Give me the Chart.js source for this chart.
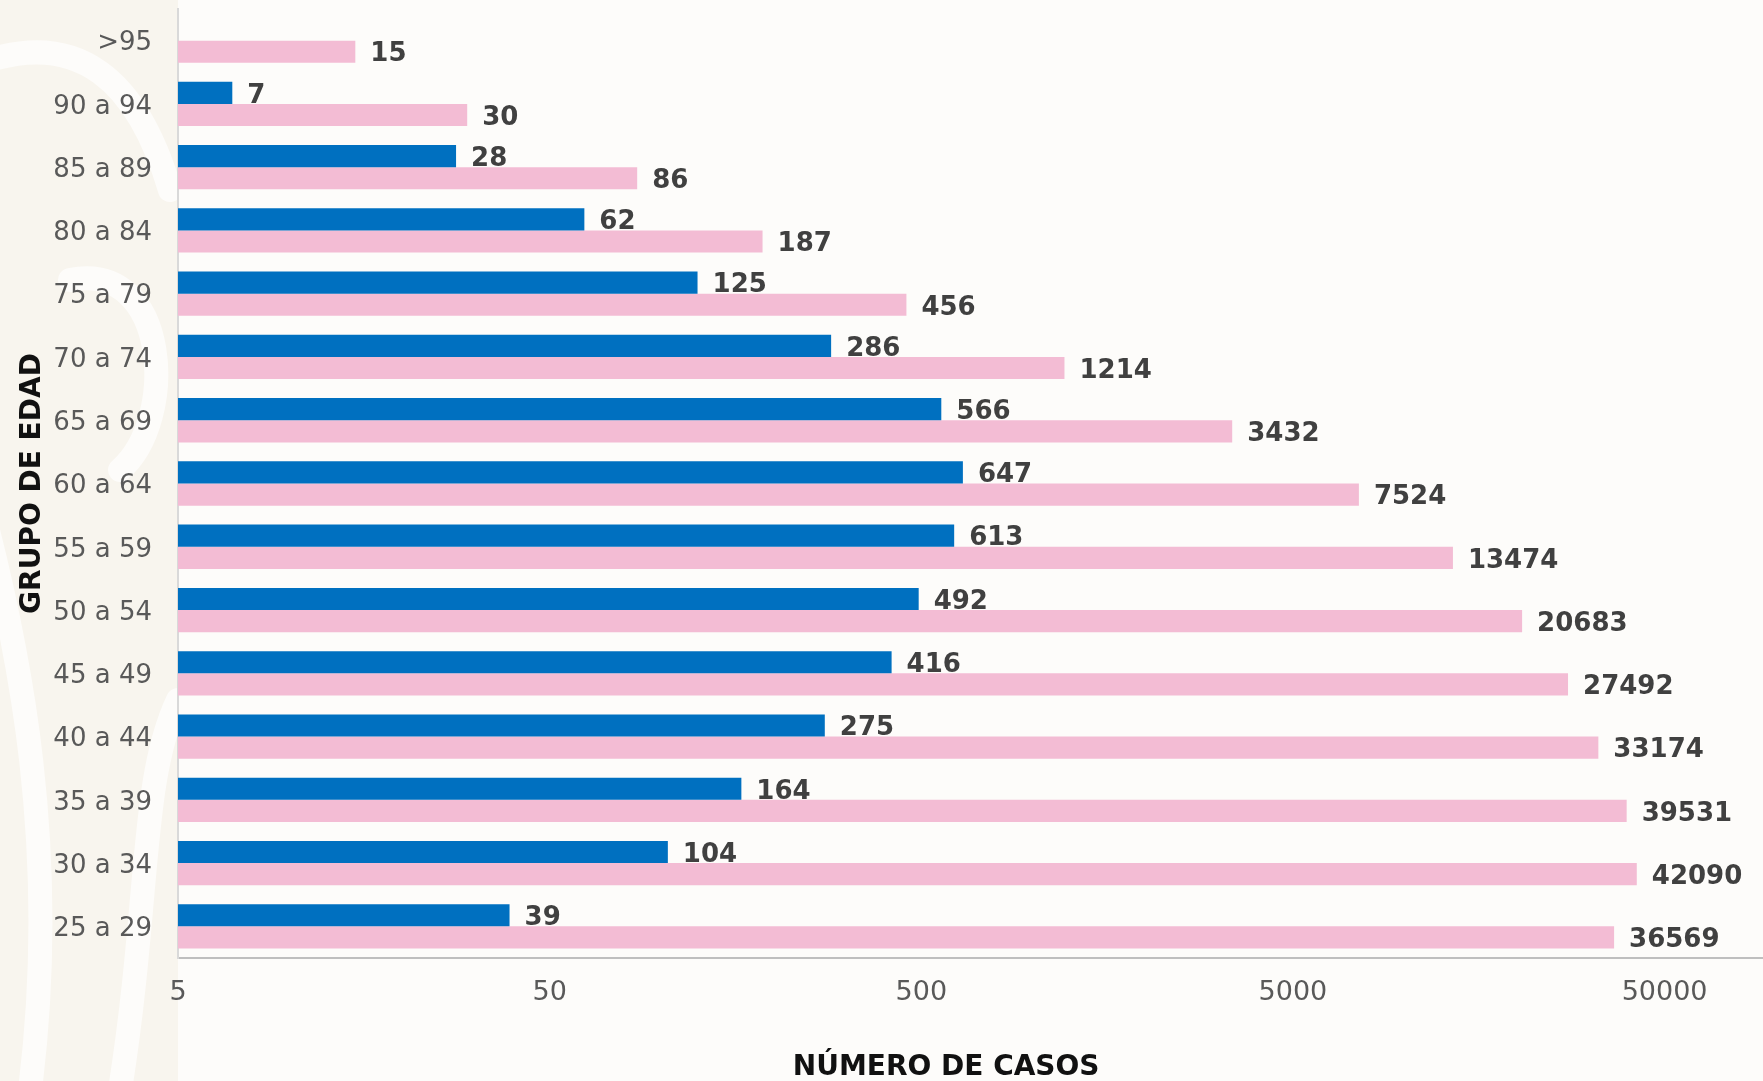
<!DOCTYPE html>
<html lang="es">
<head>
<meta charset="UTF-8" />
<title>Casos por grupo de edad</title>
<script src="https://cdn.jsdelivr.net/npm/chart.js"></script>
<style>
  html, body { margin: 0; padding: 0; overflow: hidden; background: #fdfcfa; }
  #chart-container { width: 1763px; height: 1085px; position: relative; }
</style>
</head>
<body>
<div id="chart-container"><canvas id="barChart"></canvas></div>
<script>
const grupos = [">95", "90 a 94", "85 a 89", "80 a 84", "75 a 79", "70 a 74", "65 a 69", "60 a 64",
  "55 a 59", "50 a 54", "45 a 49", "40 a 44", "35 a 39", "30 a 34", "25 a 29"];
const serieAzul = [null, 7, 28, 62, 125, 286, 566, 647, 613, 492, 416, 275, 164, 104, 39];
const serieRosa = [15, 30, 86, 187, 456, 1214, 3432, 7524, 13474, 20683, 27492, 33174, 39531, 42090, 36569];
const marcasX = [5, 50, 500, 5000, 50000];

const fuente = "'DejaVu Sans', sans-serif";

// fondo crema con trazos blancos a la izquierda
const fondo = {
  id: "fondo",
  beforeDraw(chart) {
    const { ctx, width, height } = chart;
    ctx.save();
    ctx.fillStyle = "#fdfcfa";
    ctx.fillRect(0, 0, width, height);
    ctx.fillStyle = "#f8f5ee";
    ctx.fillRect(0, 0, 178, height);
    ctx.strokeStyle = "#fdfcfa";
    ctx.lineCap = "round";
    ctx.lineWidth = 24;
    ctx.beginPath();
    ctx.moveTo(-10, 60);
    ctx.quadraticCurveTo(120, 20, 170, 190);
    ctx.moveTo(30, 1090);
    ctx.bezierCurveTo(60, 850, 20, 650, -20, 500);
    ctx.moveTo(120, 1090);
    ctx.bezierCurveTo(150, 900, 140, 780, 178, 700);
    ctx.moveTo(70, 280);
    ctx.bezierCurveTo(170, 260, 178, 420, 120, 470);
    ctx.stroke();
    ctx.restore();
  }
};

// valores al final de cada barra
const etiquetas = {
  id: "etiquetas",
  afterDatasetsDraw(chart) {
    const ctx = chart.ctx;
    ctx.save();
    ctx.font = "bold 26px " + fuente;
    ctx.fillStyle = "#404040";
    ctx.textAlign = "left";
    ctx.textBaseline = "middle";
    chart.data.datasets.forEach((ds, i) => {
      chart.getDatasetMeta(i).data.forEach((bar, j) => {
        const v = ds.data[j];
        if (v == null) return;
        ctx.fillText(String(v), bar.x + 15, bar.y + 3);
      });
    });
    ctx.restore();
  }
};

new Chart(document.getElementById("barChart"), {
  type: "bar",
  data: {
    labels: grupos,
    datasets: [
      { label: "Serie azul", data: serieAzul, backgroundColor: "#0070c0" },
      { label: "Serie rosa", data: serieRosa, backgroundColor: "#f3bcd4" }
    ]
  },
  options: {
    indexAxis: "y",
    responsive: true,
    maintainAspectRatio: false,
    animation: false,
    categoryPercentage: 0.7,
    barPercentage: 1,
    layout: { padding: { top: 9, right: 0, bottom: 0, left: 0 } },
    plugins: {
      legend: { display: false },
      tooltip: { enabled: false }
    },
    scales: {
      x: {
        type: "logarithmic",
        min: 5,
        max: 92000,
        afterBuildTicks: (s) => { s.ticks = marcasX.map((v) => ({ value: v })); },
        afterFit: (s) => { s.height = 127; },
        grid: { display: false, drawTicks: false },
        border: { display: true, color: "#bfbfbf", width: 2 },
        ticks: {
          color: "#595959",
          font: { family: fuente, size: 27 },
          padding: 19,
          maxRotation: 0,
          autoSkip: false,
          callback: (v) => String(v)
        },
        title: {
          display: true,
          text: "NÚMERO DE CASOS     ",
          color: "#111111",
          font: { family: fuente, size: 28, weight: "bold" },
          padding: { top: 0, bottom: 0 }
        }
      },
      y: {
        afterFit: (s) => {
          s.width = 178;
          s.paddingTop = 0;
          s.paddingBottom = 0;
        },
        grid: { display: false, drawTicks: false },
        border: { display: true, color: "#d9d9d9", width: 2 },
        ticks: {
          color: "#595959",
          font: { family: fuente, size: 26 },
          padding: 26,
          labelOffset: 3,
          autoSkip: false
        },
        title: {
          display: true,
          text: "GRUPO DE EDAD",
          color: "#111111",
          font: { family: fuente, size: 28, weight: "bold" },
          padding: { top: 16, bottom: 0 }
        }
      }
    }
  },
  plugins: [fondo, etiquetas]
});
</script>
</body>
</html>
